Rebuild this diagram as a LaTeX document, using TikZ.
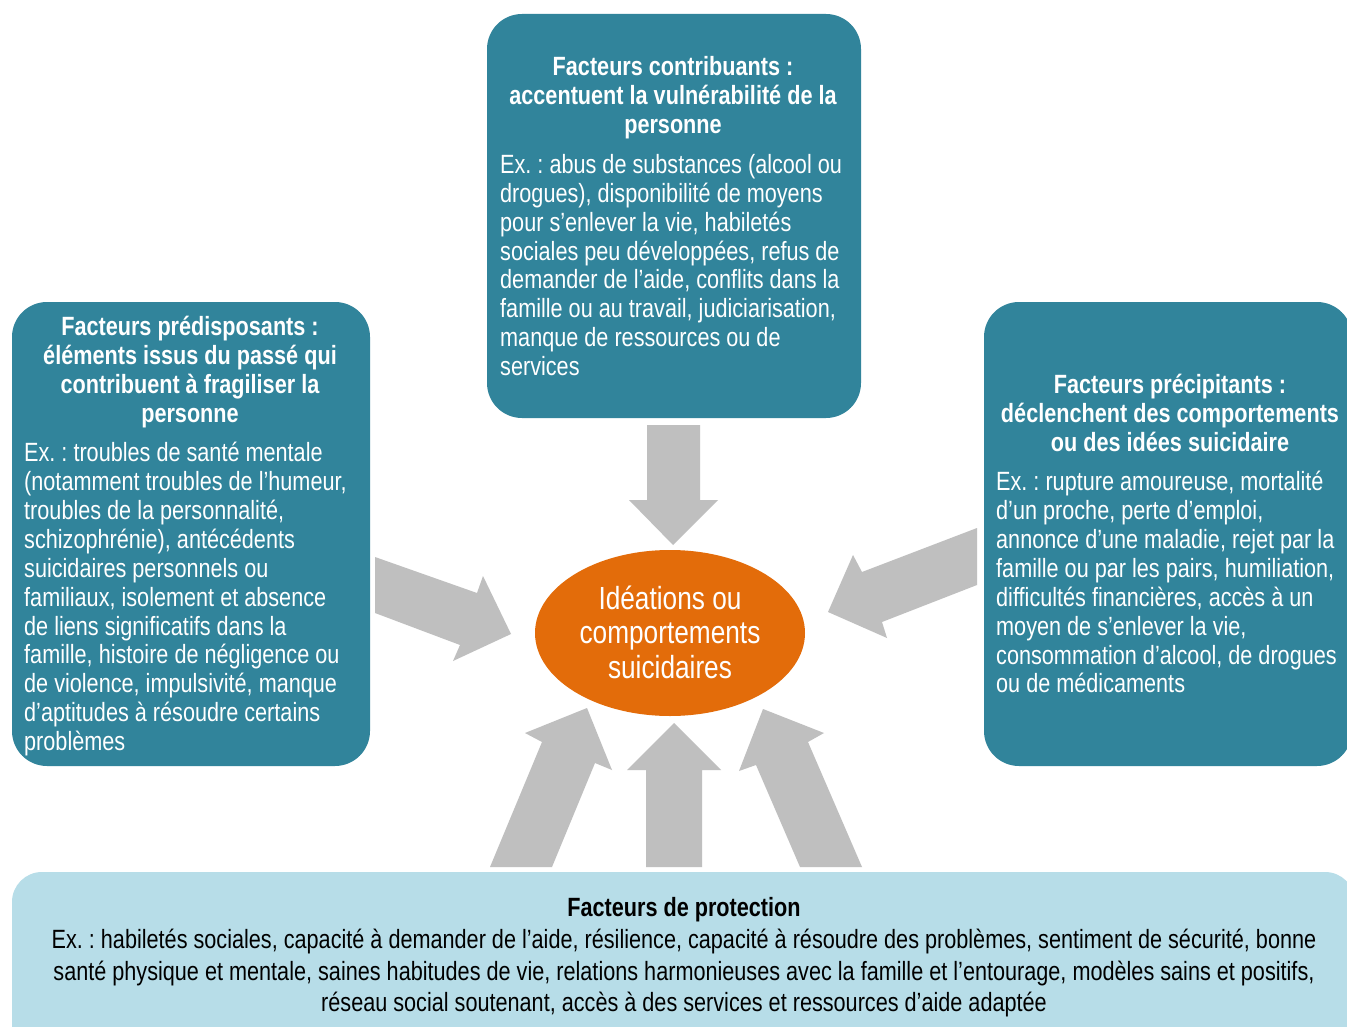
\documentclass[tikz,border=0pt]{standalone}
\usepackage{fontspec}
\setmainfont{Liberation Sans}[FakeStretch=0.82]
\usetikzlibrary{shapes.geometric}
\frenchspacing
\definecolor{teal}{RGB}{49,132,155}
\definecolor{lightblue}{RGB}{183,221,232}
\definecolor{orangefill}{RGB}{227,108,10}
\definecolor{arrowgray}{RGB}{191,191,191}
\begin{document}
\begin{tikzpicture}[x=1pt,y=-1pt,
  factbox/.style={draw=none,fill=teal,rounded corners=35pt},
  protbox/.style={draw=none,fill=lightblue,rounded corners=30pt},
  blockarrow/.style={fill=arrowgray,draw=none},
  headtext/.style={inner sep=0pt,text=white,align=center,anchor=north,
    font=\fontsize{26.4}{29}\selectfont\bfseries},
  bodytext/.style={inner sep=0pt,text=white,align=left,anchor=north west,
    font=\fontsize{26.4}{28.9}\selectfont},
]
\clip (0,0) rectangle (1347,1027);
\fill[white] (0,0) rectangle (1347,1027);

% boxes
\path[factbox] (487,14) rectangle (861,418);
\path[factbox] (12,302) rectangle (370,766);
\path[factbox] (984,302) rectangle (1352,766);
\path[protbox] (12,872) rectangle (1355,1060);

% central ellipse
\node[ellipse,minimum width=270pt,minimum height=166pt,fill=orangefill,inner sep=0pt] (center) at (670,633) {};
\node[inner sep=0pt,text=white,align=center,font=\fontsize{32}{34.5}\selectfont] (centertext) at (670,632)
  {Idéations ou\\comportements\\suicidaires};

% block arrows
\path[blockarrow] (647,425) -- (700,425) -- (700,500) -- (718,500) -- (673,545) -- (629,500) -- (647,500) -- cycle;
\path[blockarrow] (375,557) -- (477,593) -- (483,576) -- (511,634) -- (453,661) -- (460,645) -- (375,613) -- cycle;
\path[blockarrow] (977,528) -- (862,572) -- (853,555) -- (828,612) -- (887,638) -- (882,622) -- (977,585) -- cycle;
\path[blockarrow] (490,867) -- (542,742) -- (525,733) -- (587,708) -- (612,770) -- (595,763) -- (552,867) -- cycle;
\path[blockarrow] (646,867) -- (646,770) -- (627,770) -- (674,723) -- (721,770) -- (702,770) -- (702,867) -- cycle;
\path[blockarrow] (800,867) -- (756,765) -- (739,771) -- (763,709) -- (824,733) -- (808,742) -- (862,867) -- cycle;

% top box text
\node[headtext] (tophead) at (673,56) {Facteurs contribuants :\\accentuent la vulnérabilité de la\\personne};
\node[bodytext] (topbody) at (500,154) {Ex. : abus de substances (alcool ou\\drogues), disponibilité de moyens\\pour s’enlever la vie, habiletés\\sociales peu développées, refus de\\demander de l’aide, conflits dans la\\famille ou au travail, judiciarisation,\\manque de ressources ou de\\services};

% left box text
\node[headtext] (lefthead) at (190,316) {Facteurs prédisposants :\\éléments issus du passé qui\\contribuent à fragiliser la\\personne};
\node[bodytext] (leftbody) at (24,442) {Ex. : troubles de santé mentale\\(notamment troubles de l’humeur,\\troubles de la personnalité,\\schizophrénie), antécédents\\suicidaires personnels ou\\familiaux, isolement et absence\\de liens significatifs dans la\\famille, histoire de négligence ou\\de violence, impulsivité, manque\\d’aptitudes à résoudre certains\\problèmes};

% right box text
\node[headtext] (righthead) at (1170,374) {Facteurs précipitants :\\déclenchent des comportements\\ou des idées suicidaire};
\node[bodytext] (rightbody) at (996,471) {Ex. : rupture amoureuse, mortalité\\d’un proche, perte d’emploi,\\annonce d’une maladie, rejet par la\\famille ou par les pairs, humiliation,\\difficultés financières, accès à un\\moyen de s’enlever la vie,\\consommation d’alcool, de drogues\\ou de médicaments};

% bottom box text
\node[inner sep=0pt,anchor=north,font=\fontsize{26.4}{29}\selectfont\bfseries,text=black] (bothead) at (684,897) {Facteurs de protection};
\node[inner sep=0pt,anchor=north,align=center,font=\fontsize{26.4}{31.5}\selectfont,text=black] (botbody) at (684,929) {Ex. : habiletés sociales, capacité à demander de l’aide, résilience, capacité à résoudre des problèmes, sentiment de sécurité, bonne\\santé physique et mentale, saines habitudes de vie, relations harmonieuses avec la famille et l’entourage, modèles sains et positifs,\\réseau social soutenant, accès à des services et ressources d’aide adaptée};
\end{tikzpicture}
\end{document}
